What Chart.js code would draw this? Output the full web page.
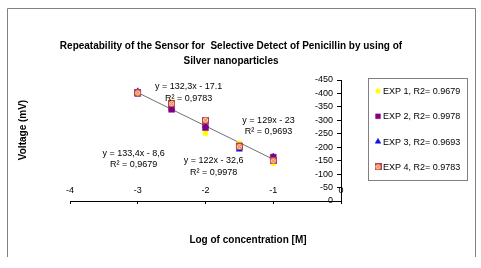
<!DOCTYPE html>
<html><head><meta charset="utf-8">
<script src="https://cdn.jsdelivr.net/npm/chart.js@4"></script>
<style>html,body{margin:0;padding:0;background:#fff}#wrap{width:481px;height:268px;position:relative}</style>
</head><body><div id="wrap"><canvas id="c"></canvas></div>
<script>
// ---- data ----
const logConc = [-3, -2.5, -2, -1.5, -1];
const exp1 = [-403, -368, -252, -215, -140];
const exp2 = [-400, -341, -273, -205, -163];
const exp3 = [-408, -345, -280, -192, -165];
const exp4 = [-402, -362, -301, -202, -149];
const trendX = [-3, -1];
const trendY = [-403, -155];
const seriesLabels = ['EXP 1, R2= 0.9679', 'EXP 2, R2= 0.9978', 'EXP 3, R2= 0.9693', 'EXP 4, R2= 0.9783'];
const xTicks = [-4, -3, -2, -1, 0];
const yTicks = [-450, -400, -350, -300, -250, -200, -150, -100, -50, 0];
const titleLines = ['Repeatability of the Sensor for  Selective Detect of Penicillin by using of', 'Silver nanoparticles'];
const xTitle = 'Log of concentration [M]';
const yTitle = 'Voltage (mV)';
const eqTexts = [
  ['y = 132,3x - 17.1', 'R² = 0,9783'],
  ['y = 129x - 23', 'R² = 0,9693'],
  ['y = 133,4x - 8,6', 'R² = 0,9679'],
  ['y = 122x - 32,6', 'R² = 0,9978']
];

// ---- layout / style ----
const FONT = "'Liberation Sans', Arial, sans-serif";
const eqAnchors = [ {x: -2.25, y: -424}, {x: -1.07, y: -301}, {x: -3.06, y: -178}, {x: -1.88, y: -149} ];
const Y_LABEL_GAP = 8;

const boxX = document.createElement('canvas');
boxX.width = 7; boxX.height = 7;
(function(){
  const g = boxX.getContext('2d');
  g.fillStyle = '#FFCC99'; g.fillRect(0, 0, 7, 7);
  g.strokeStyle = '#B04060'; g.lineWidth = 1;
  g.strokeRect(0.5, 0.5, 6, 6);
  g.strokeStyle = '#E07030';
  g.beginPath(); g.moveTo(1, 1); g.lineTo(6, 6); g.moveTo(6, 1); g.lineTo(1, 6); g.stroke();
})();

const pts = ys => logConc.map((x, i) => ({x, y: ys[i]}));
const styles = [
  {pointStyle: 'circle', radius: 2.6, color: '#FFFF00', border: '#FFFF00'},
  {pointStyle: 'rect', radius: 4.2, color: '#800080', border: '#800080'},
  {pointStyle: 'triangle', radius: 3.6, color: '#1010E0', border: '#1010E0'},
  {pointStyle: boxX, radius: 3.5, color: '#FFCC99', border: '#B04060'}
];
const series = [exp1, exp2, exp3, exp4];
const orders = [3, 1, 2, 0];

const datasets = series.map((s, i) => ({
  type: 'scatter', label: seriesLabels[i], data: pts(s), order: orders[i],
  pointStyle: styles[i].pointStyle, pointRadius: styles[i].radius,
  backgroundColor: styles[i].color, borderColor: styles[i].border, pointBorderWidth: 0.5
}));
datasets.push({
  type: 'line', label: 'trend', data: trendX.map((x, i) => ({x, y: trendY[i]})), order: 9,
  borderColor: '#707070', borderWidth: 1, pointRadius: 0, fill: false
});

const decor = {
  id: 'decor',
  beforeDraw(chart) {
    // move the y tick labels a little to the left of the axis line
    const ys = chart.scales.y;
    if (ys && ys.getLabelItems) {
      ys.getLabelItems().forEach(it => {
        if (!it._shifted && it.options && it.options.translation) { it.options.translation[0] = ys.getPixel ? it.options.translation[0] : it.options.translation[0]; it.options.translation[0] -= Y_LABEL_GAP; it._shifted = true; }
      });
    }
    const ctx = chart.ctx;
    ctx.save();
    ctx.fillStyle = '#fff'; ctx.fillRect(0, 0, chart.width, chart.height);
    ctx.strokeStyle = '#808080'; ctx.lineWidth = 1;
    ctx.beginPath();
    ctx.moveTo(7.5, 257); ctx.lineTo(7.5, 8.5); ctx.lineTo(475.5, 8.5); ctx.lineTo(475.5, 257);
    ctx.stroke();
    ctx.restore();
  },
  afterDatasetsDraw(chart) {
    const ctx = chart.ctx, xs = chart.scales.x, ys = chart.scales.y;
    ctx.save();
    ctx.fillStyle = '#000';
    ctx.font = '9px ' + FONT;
    ctx.textAlign = 'center'; ctx.textBaseline = 'middle';
    eqTexts.forEach((lines, i) => {
      const px = xs.getPixelForValue(eqAnchors[i].x), py = ys.getPixelForValue(eqAnchors[i].y);
      lines.forEach((t, j) => ctx.fillText(t, px, py + j * 11.5));
    });
    ctx.restore();
  },
  afterDraw(chart) {
    const ctx = chart.ctx;
    ctx.save();
    ctx.fillStyle = '#000';
    ctx.font = 'bold 10px ' + FONT;
    ctx.textAlign = 'center'; ctx.textBaseline = 'middle';
    titleLines.forEach((t, j) => ctx.fillText(t, 231, 46 + j * 15));
    ctx.fillText(xTitle, 248, 240);
    ctx.translate(23, 130); ctx.rotate(-Math.PI / 2); ctx.fillText(yTitle, 0, 0);
    ctx.restore();
    // legend
    ctx.save();
    ctx.strokeStyle = '#808080'; ctx.lineWidth = 1;
    ctx.strokeRect(368.5, 78.5, 99, 102);
    ctx.font = '9px ' + FONT; ctx.textAlign = 'left'; ctx.textBaseline = 'middle'; ctx.fillStyle = '#000';
    seriesLabels.forEach((t, i) => {
      const y = 91 + i * 25.3;
      const st = styles[i];
      ctx.fillStyle = st.color; ctx.strokeStyle = st.border; ctx.lineWidth = 0.5;
      Chart.helpers.drawPoint(ctx, {pointStyle: st.pointStyle, radius: i === 1 ? 3.4 : st.radius * 0.9, borderWidth: 0.5, rotation: 0}, 378, y);
      ctx.fillStyle = '#000';
      ctx.fillText(t, 383, y + 0.5);
    });
    ctx.restore();
  }
};

new Chart(document.getElementById('c'), {
  data: {datasets},
  options: {
    responsive: true, maintainAspectRatio: false, animation: false,
    layout: {padding: {left: 70, top: 80, right: 140, bottom: 54}},
    plugins: {legend: {display: false}, title: {display: false}, tooltip: {enabled: false}},
    scales: {
      x: {
        type: 'linear', min: -4, max: 0, position: 'bottom',
        afterBuildTicks: s => { s.ticks = xTicks.map(v => ({value: v})); },
        ticks: {mirror: true, padding: 5, autoSkip: false, maxRotation: 0, color: '#000', font: {size: 9, family: FONT}},
        grid: {drawOnChartArea: false, drawTicks: true, tickLength: 3, color: '#000'},
        border: {color: '#000'}
      },
      y: {
        type: 'linear', min: -450, max: 0, reverse: true, position: {x: 0},
        afterBuildTicks: s => { s.ticks = yTicks.map(v => ({value: v})); },
        ticks: {padding: 4, autoSkip: false, color: '#000', font: {size: 9, family: FONT}},
        grid: {drawOnChartArea: false, drawTicks: true, tickLength: 4, color: '#000'},
        border: {color: '#000'}
      }
    }
  },
  plugins: [decor]
});
</script></body></html>
